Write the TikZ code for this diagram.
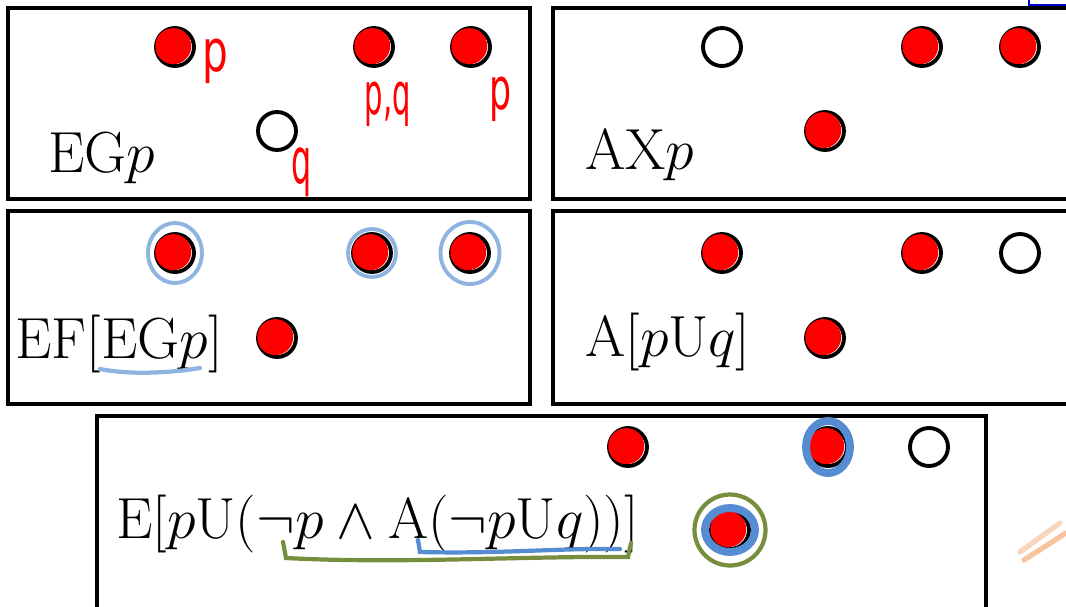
\RequirePackage{fix-cm}
\documentclass[tikz,border=0pt]{standalone}
\usepackage{amsmath,amssymb}
\usepackage{fontspec}
\newfontfamily\handfont{DejaVu Sans}
\usetikzlibrary{calc}

\definecolor{ringblue}{RGB}{143,180,226}
\definecolor{deepblue}{RGB}{86,140,210}
\definecolor{olive}{RGB}{118,142,62}
\definecolor{peach}{RGB}{248,196,160}

\begin{document}
\begin{tikzpicture}[
            x=0.02cm, y=-0.02cm,
            frame/.style={draw=black, line width=1.8pt},
            state/.style={circle, draw=black, line width=2.2pt, minimum size=0.76cm, inner sep=0pt},
            formula/.style={anchor=base west, inner sep=0pt, font=\fontsize{33}{40}\selectfont},
            hand/.style={text=red, inner sep=0pt, font=\handfont\fontsize{33}{36}\selectfont},
            blob/.style={fill=red},
            ring/.style={draw=ringblue, line width=2.2pt}
        ]
        \useasboundingbox (0,0) rectangle (1066,606);
        \clip (0,0) rectangle (1066,606);

        % Rahmen
        \draw [frame] (8,8) rectangle (530,199);
        \draw [frame] (553,8) rectangle (1080,199);
        \draw [frame] (8,211) rectangle (530,404);
        \draw [frame] (553,211) rectangle (1080,404);
        \draw [frame] (97,416) rectangle (986,620);

        % EG p
        \node (egp) [formula] at (48,172) {EG$p$};
        \node (eg1) [state] at (175,47) {};
        \node (eg2) [state] at (374,47) {};
        \node (eg3) [state] at (471,47) {};
        \node (eg4) [state] at (277,131) {};
        \node (egl1) [hand] at (215,61) {\scalebox{0.7}[1]{p}};
        \node (egl2) [hand] at (388,104) {\scalebox{0.5}[1]{p,q}};
        \node (egl3) [hand] at (501,99) {\scalebox{0.6}[1]{p}};
        \node (egl4) [hand] at (302,172) {\scalebox{0.55}[1.1]{q}};

        % AX p
        \node (axp) [formula] at (585,169) {AX$p$};
        \node (ax1) [state] at (722,47) {};
        \node (ax2) [state] at (922,47) {};
        \node (ax3) [state] at (1020,47) {};
        \node (ax4) [state] at (825,131) {};

        % EF[EG p]
        \node (efp) [formula] at (15,358) {EF[EG$p$]};
        \node (ef1) [state] at (175,253) {};
        \node (ef2) [state] at (372,253) {};
        \node (ef3) [state] at (470,253) {};
        \node (ef4) [state] at (277,338) {};

        % A[p U q]
        \node (aup) [formula] at (585,356) {A[$p$U$q$]};
        \node (au1) [state] at (722,253) {};
        \node (au2) [state] at (922,253) {};
        \node (au3) [state] at (1020,253) {};
        \node (au4) [state] at (825,338) {};

        % E[p U (...)]
        \node (eup) [formula] at (116,538) {E[$p$U($\neg p\wedge{}$A($\neg p$U$q$))]};
        \node (eu1) [state] at (628,447) {};
        \node (eu2) [state] at (828,447) {};
        \node (eu3) [state] at (929,447) {};
        \node (eu4) [state] at (730,530) {};

        % markierte Zustaende
        \foreach \n in {eg1,eg2,eg3,ax2,ax3,ax4,ef1,ef2,ef3,ef4,au1,au2,au4,eu1,eu2,eu4}
            \fill [blob] ([xshift=-1pt,yshift=0.5pt]\n.center) circle (0.36cm);

        % Kringel
        \draw [ring] (ef1) ellipse [x radius=0.54cm, y radius=0.6cm];
        \draw [ring] (ef2) circle (0.48cm);
        \draw [ring] (ef3) ellipse [x radius=0.59cm, y radius=0.62cm];
        \draw [deepblue, line width=4.5pt] (eu2) ellipse [x radius=0.44cm, y radius=0.52cm];
        \draw [deepblue, line width=4.5pt] (eu4) ellipse [x radius=0.5cm, y radius=0.44cm];
        \draw [olive, line width=2.4pt] (eu4) circle (0.71cm);

        % Unterstreichungen
        \draw [ringblue, line width=2.4pt, line cap=round] (100,369) .. controls (130,375) and (170,373) .. (200,368);
        \draw [olive, line width=2.4pt, line cap=round] (283,542) -- (286,558) .. controls (400,564) and (520,556) .. (628,557) -- (631,543);
        \draw [deepblue, line width=2.4pt, line cap=round] (418,540) -- (420,552) .. controls (500,554) and (560,548) .. (620,549);

        % Reste
        \draw [blue!80!black, line width=1pt] (1029,0) -- (1029,5) -- (1066,5);
        \draw [peach!70, line width=3pt, line cap=round] (1020,552) -- (1060,523);
        \draw [peach, line width=3pt, line cap=round] (1024,560) -- (1066,533);

    \end{tikzpicture}
\end{document}
